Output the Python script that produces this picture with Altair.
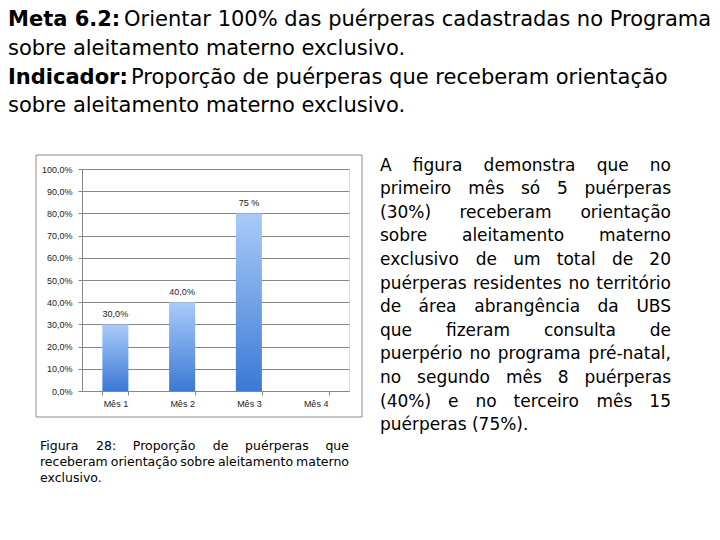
import altair as alt
import pandas as pd

# ---------------- data ----------------
meses = ["Mês 1", "Mês 2", "Mês 3", "Mês 4"]
valores = [30.0, 40.0, 80.0, None]          # bar heights as drawn (percent)
rotulos = ["30,0%", "40,0%", "75 %", ""]    # data labels as printed
ticks_y = [0, 10, 20, 30, 40, 50, 60, 70, 80, 90, 100]

titulo_negrito = ["Meta 6.2:", "", "Indicador:", ""]
titulo_normal = [
    "Orientar 100% das puérperas cadastradas no Programa",
    "sobre aleitamento materno exclusivo.",
    "Proporção de puérperas que receberam orientação",
    "sobre aleitamento materno exclusivo.",
]

paragrafo = [
    "A figura  demonstra que no",
    "primeiro mês só 5 puérperas",
    "(30%) receberam orientação",
    "sobre aleitamento materno",
    "exclusivo de um total de 20",
    "puérperas residentes no território",
    "de área  abrangência da UBS",
    "que fizeram consulta de",
    "puerpério no programa pré-natal,",
    "no segundo mês 8 puérperas",
    "(40%)  e no terceiro mês 15",
    "puérperas (75%).",
]

legenda = [
    "Figura 28: Proporção de puérperas que",
    "receberam orientação sobre aleitamento materno",
    "exclusivo.",
]

# ---------------- layout helpers ----------------
OX, OY = 82, 169          # plot origin in window pixels
PW, PH = 267, 222         # plot area size

# approximate DejaVu Sans advance widths (em)
CW = {' ': .318, 'a': .613, 'b': .635, 'c': .550, 'd': .635, 'e': .615, 'f': .352,
      'g': .635, 'h': .634, 'i': .278, 'j': .278, 'k': .579, 'l': .278, 'm': .974,
      'n': .634, 'o': .612, 'p': .635, 'q': .635, 'r': .411, 's': .521, 't': .392,
      'u': .634, 'v': .592, 'w': .818, 'x': .592, 'y': .592, 'z': .525,
      '(': .390, ')': .390, '%': .950, '.': .318, ',': .318, '-': .361, ':': .337,
      'é': .615, 'ê': .615, 'ó': .612, 'ã': .613, 'ç': .550, 'á': .613, 'í': .278,
      'A': .684, 'U': .732, 'B': .686, 'S': .635, 'F': .575, 'P': .603}


def tw(s, fs):
    return sum(CW.get(c, .636) for c in s) * fs


def justify(lines, x0, x1, y0, dy, fs, last_left=True):
    left, right = [], []
    for i, line in enumerate(lines):
        y = y0 + i * dy
        words = line.split()
        if (last_left and i == len(lines) - 1) or len(words) == 1:
            left.append(dict(px=x0 - OX, py=y - OY, t=line))
            continue
        ws = [tw(w, fs) for w in words]
        gap = (x1 - x0 - sum(ws)) / (len(words) - 1)
        x = x0
        for j, w in enumerate(words):
            if j == len(words) - 1:
                right.append(dict(px=x1 - OX, py=y - OY, t=w))
            else:
                left.append(dict(px=x - OX, py=y - OY, t=w))
            x += ws[j] + gap
    return pd.DataFrame(left), pd.DataFrame(right)


# ---------------- chart ----------------
df = pd.DataFrame({"mes": meses, "valor": valores, "rotulo": rotulos})

grad = alt.Gradient(
    gradient="linear",
    stops=[alt.GradientStop(color="#3B79D5", offset=0),
           alt.GradientStop(color="#A9CBF9", offset=1)],
    x1=1, x2=1, y1=1, y2=0,
)

xenc = alt.X("mes:N", sort=meses, title=None,
             scale=alt.Scale(domain=meses, paddingInner=0.61, paddingOuter=0.305),
             axis=alt.Axis(labelAngle=0, tickBand="extent", tickSize=4,
                           labelPadding=4, domainColor="#868686", tickColor="#868686",
                           labelFont="Liberation Sans", labelFontSize=9,
                           labelColor="#222222", grid=False))
yenc = alt.Y("valor:Q", title=None,
             scale=alt.Scale(domain=[0, 100], nice=False),
             axis=alt.Axis(values=ticks_y, tickCount=len(ticks_y),
                           labelOverlap=False,
                           labelExpr="replace(format(datum.value, '.1f'), '.', ',') + '%'",
                           tickSize=4, labelPadding=6, domainColor="#868686",
                           tickColor="#868686", gridColor="#868686", gridOpacity=1,
                           labelFont="Liberation Sans", labelFontSize=9,
                           labelColor="#222222"))

bars = alt.Chart(df).mark_bar(color=grad).encode(x=xenc, y=yenc)
vals = alt.Chart(df).mark_text(dy=-10, font="Liberation Sans", fontSize=9,
                               color="#222222").encode(
    x=xenc, y=yenc, text="rotulo:N")
plot = alt.layer(bars, vals)

frame = alt.Chart(pd.DataFrame({"k": [0]})).mark_rect(
    filled=False, stroke="#8c8c8c", strokeWidth=1).encode(
    x=alt.value(36 - OX), x2=alt.value(362 - OX),
    y=alt.value(155 - OY), y2=alt.value(417 - OY))

# title
TX = 8
tb = pd.DataFrame({"px": [TX - OX, TX - OX], "py": [26 - OY, 84 - OY],
                   "t": [titulo_negrito[0], titulo_negrito[2]]})
tn = pd.DataFrame({"px": [124 - OX, TX - OX, 131 - OX, TX - OX],
                   "py": [26 - OY, 55 - OY, 84 - OY, 112 - OY],
                   "t": titulo_normal})

pl, pr = justify(paragrafo, 380, 671, 170.5, 23.6, 17)
cl, cr = justify(legenda, 40, 349, 450, 16, 12.5)


def txt(data, fs, align="left", weight="normal"):
    return alt.Chart(data).mark_text(
        align=align, baseline="alphabetic", font="DejaVu Sans", fontSize=fs,
        fontWeight=weight, color="#000000").encode(
        x=alt.X("px:Q", scale=None, axis=None),
        y=alt.Y("py:Q", scale=None, axis=None),
        text="t:N")


texts = alt.layer(
    frame,
    txt(tb, 21, weight="bold"),
    txt(tn, 21),
    txt(pl, 17), txt(pr, 17, align="right"),
    txt(cl, 12.5), txt(cr, 12.5, align="right"),
)

chart = alt.layer(texts, plot).resolve_scale(
    x="independent", y="independent").properties(
    width=PW, height=PH,
    autosize=alt.AutoSizeParams(type="none"),
    padding={"left": OX - 8, "top": OY - 8,
             "right": 712 - OX - PW, "bottom": 532 - OY - PH},
).configure_view(stroke=None).configure(background="white")

chart.save("out.html", embed_options={"renderer": "svg", "actions": False})
